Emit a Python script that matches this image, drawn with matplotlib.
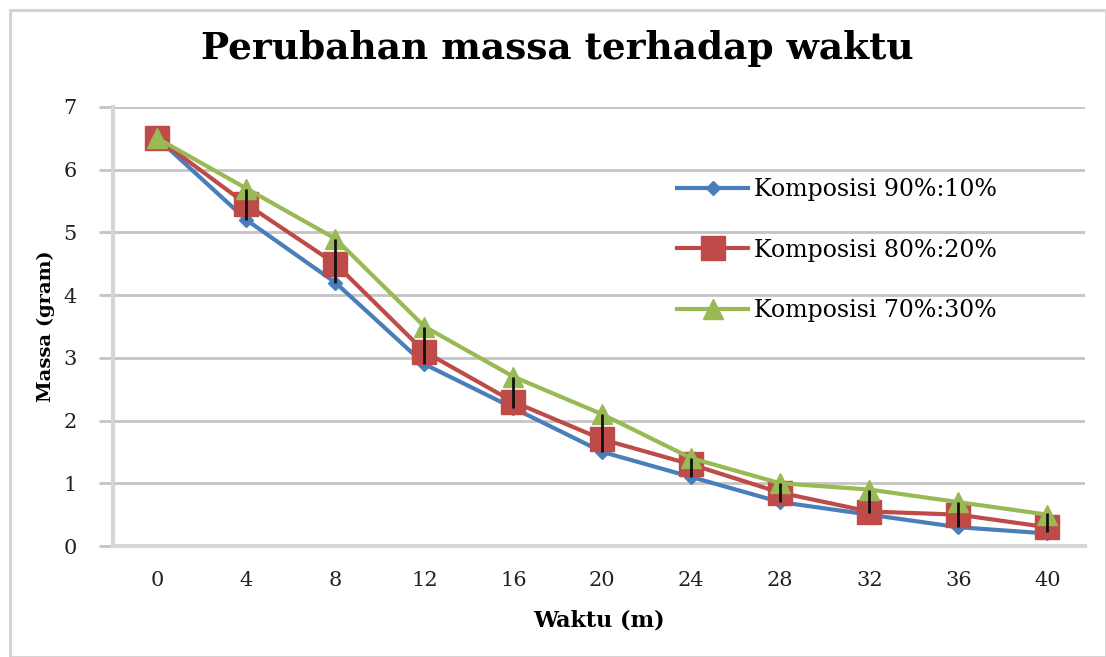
import matplotlib
matplotlib.use("Agg")
import matplotlib.pyplot as plt
import numpy as np

waktu = [0, 4, 8, 12, 16, 20, 24, 28, 32, 36, 40]
komp_90_10 = [6.5, 5.2, 4.2, 2.9, 2.2, 1.5, 1.1, 0.7, 0.5, 0.3, 0.2]
komp_80_20 = [6.5, 5.45, 4.5, 3.1, 2.3, 1.7, 1.3, 0.85, 0.55, 0.5, 0.3]
komp_70_30 = [6.5, 5.7, 4.9, 3.5, 2.7, 2.1, 1.4, 1.0, 0.9, 0.7, 0.5]
# error bar extents on the 80%:20% series
err_low = [6.5, 5.2, 4.2, 2.9, 2.2, 1.5, 1.1, 0.7, 0.53, 0.3, 0.22]
err_high = [6.5, 5.7, 4.9, 3.5, 2.7, 2.1, 1.4, 1.0, 0.9, 0.7, 0.53]
yticks = [0, 1, 2, 3, 4, 5, 6, 7]

plt.rcParams['font.family'] = ['DejaVu Serif']

fig = plt.figure(figsize=(11.06, 6.57), dpi=100)
ax = fig.add_axes([113/1106, 1 - 546/657, (1085 - 113)/1106, (546 - 107)/657])

# border around figure
fig.patches.append(plt.Rectangle((10/1106, 0.0), 1 - 10/1106, 1 - 10/657,
                                 transform=fig.transFigure, fill=False,
                                 edgecolor='#d0d0d0', linewidth=2))

blue = '#4A7EBB'
red = '#BE4B48'
green = '#98B954'

ax.plot(waktu, komp_90_10, color=blue, lw=3, marker='D', ms=7,
        label='Komposisi 90%:10%', zorder=3)
ax.plot(waktu, komp_80_20, color=red, lw=3, marker='s', ms=17,
        label='Komposisi 80%:20%', zorder=4)
ax.plot(waktu, komp_70_30, color=green, lw=3, marker='^', ms=14,
        label='Komposisi 70%:30%', zorder=5)

lo = np.array(komp_80_20) - np.array(err_low)
hi = np.array(err_high) - np.array(komp_80_20)
ax.errorbar(waktu, komp_80_20, yerr=[lo, hi], fmt='none', ecolor='#111111',
            elinewidth=2, capsize=0, zorder=6)

ax.set_xlim(-2, 41.7)
ax.set_ylim(0, 7)
ax.set_xticks(waktu)
ax.set_yticks(yticks)
ax.tick_params(axis='x', length=0, labelsize=15, colors='#222222', pad=18)
ax.tick_params(axis='y', length=10, width=2, color='#c4c4c4', labelsize=15,
               labelcolor='#222222', pad=16)
ax.grid(axis='y', color='#c4c4c4', lw=2)
ax.set_axisbelow(True)
for s in ['top', 'right']:
    ax.spines[s].set_visible(False)
ax.spines['left'].set_color('#d6d6d6')
ax.spines['left'].set_linewidth(3)
ax.spines['bottom'].set_color('#d6d6d6')
ax.spines['bottom'].set_linewidth(3)

ax.set_xlabel('Waktu (m)', fontsize=16, fontweight='bold', labelpad=14)
ax.set_ylabel('Massa (gram)', fontsize=14, fontweight='bold', labelpad=6)
fig.text(0.504, 0.926, 'Perubahan massa terhadap waktu', ha='center', va='center',
         fontsize=27, fontweight='bold')

leg = ax.legend(loc='upper left', bbox_to_anchor=(0.571, 0.86), frameon=False,
                fontsize=17, labelspacing=1.6, handlelength=3.0,
                handletextpad=0.25, borderaxespad=0)

fig.savefig('out.png', dpi=100)
